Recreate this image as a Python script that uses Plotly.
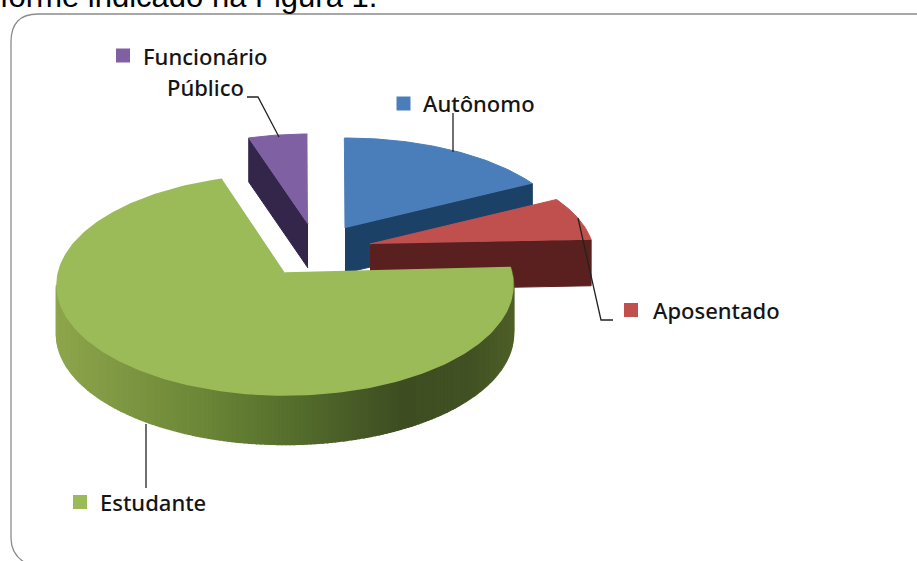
import numpy as np
import plotly.graph_objects as go

# Data (shares, percent), clockwise from the start angle
categories = ["Funcionário Público", "Autônomo", "Aposentado", "Estudante"]
shares = [4.4, 15.7, 6.8, 73.1]
start_angle = -106.0

top_colors = ["#7f60a2", "#4a7ebb", "#c0504d", "#9bbb59"]
cut_colors = ["#33264a", "#1b4167", "#5a2020", "#46562a"]

# Pie drawing geometry (pixel axes)
rx = [215, 225, 224, 228]
ry = [102, 102, 102, 110]
apex_x = [308, 345, 370, 285]
apex_y = [224, 228, 244, 273]
centre_drop = 12
depth = [44, 45, 46, 49]

grad_x = [57, 130, 200, 300, 400, 470, 513]
grad_rgb = [(142, 166, 76), (125, 150, 66), (108, 136, 56), (84, 108, 44), (62, 78, 34), (66, 82, 36), (78, 96, 40)]

W, H = 917, 561
fig = go.Figure()


def poly(xs, ys, color, lw=1):
    fig.add_trace(go.Scatter(x=list(xs), y=list(ys), mode="lines", fill="toself", fillcolor=color,
                             line=dict(color=color, width=lw), hoverinfo="skip", showlegend=False))


angles = start_angle + np.concatenate([[0], np.cumsum(shares)]) * 3.6


def arc(i, a0, a1, n=60):
    t = np.radians(np.linspace(a0, a1, n))
    return apex_x[i] + rx[i] * np.cos(t), apex_y[i] + centre_drop + ry[i] * np.sin(t)


# back wedges first: purple, blue, red, then the big green one
for i in range(3):
    a0, a1 = angles[i], angles[i + 1]
    xs, ys = arc(i, a0, a1)
    # visible cut face
    if i == 0:
        cx, cy = xs[0], ys[0]
    else:
        cx, cy = xs[-1], ys[-1]
    poly([apex_x[i], cx, cx, apex_x[i]], [apex_y[i], cy, cy + depth[i], apex_y[i] + depth[i]], cut_colors[i])
    poly([apex_x[i], *xs], [apex_y[i], *ys], top_colors[i])

# green wedge: outer wall with horizontal shading, then top face
i = 3
a_start = angles[3] - 360 if angles[3] > 180 else angles[3]
wall_angles = np.linspace(a_start, 180, 181)
for a0, a1 in zip(wall_angles[:-1], wall_angles[1:]):
    xs, ys = arc(i, a0, a1, 3)
    xm = xs.mean()
    col = [int(np.interp(xm, grad_x, [c[k] for c in grad_rgb])) for k in range(3)]
    color = "rgb(%d,%d,%d)" % tuple(col)
    poly([*xs, *xs[::-1]], [*ys, *(ys[::-1] + depth[i])], color, lw=2.5)
xs, ys = arc(i, a_start, a_start + shares[3] * 3.6, 240)
poly([apex_x[i], *xs], [apex_y[i], *ys], top_colors[i], lw=1.5)

# leader lines
leaders_x = [[247, 258, 279], [453, 453], [578, 601, 613], [146, 146]]
leaders_y = [[97, 97, 137], [113, 152], [218, 320, 320], [424, 488]]
for lx, ly in zip(leaders_x, leaders_y):
    fig.add_trace(go.Scatter(x=lx, y=ly, mode="lines", line=dict(color="#222222", width=1.3),
                             hoverinfo="skip", showlegend=False))

# label keys and text
key_x = [123, 403.5, 631, 80]
key_y = [55.5, 103.5, 310, 502]
fig.add_trace(go.Scatter(x=key_x, y=key_y, mode="markers",
                         marker=dict(symbol="square", size=14, color=top_colors, line=dict(width=0)),
                         hoverinfo="skip", showlegend=False))

font = dict(family="Noto Sans", size=22, weight=500, color="#151515")
labels = [("Funcionário", 141, 56), ("Público", 165, 87), ("Autônomo", 421, 103),
          ("Aposentado", 651, 310), ("Estudante", 98, 502)]
annotations = [dict(x=x, y=y, text=t, xref="x", yref="y", xanchor="left", yanchor="middle",
                    showarrow=False, font=font) for t, x, y in labels]
annotations.append(dict(x=0, y=1, yshift=4, xshift=-2, text="forme indicado na Figura 1.", xref="paper", yref="paper",
                        xanchor="left", yanchor="middle", showarrow=False,
                        font=dict(family="Liberation Sans", size=31, color="#000000")))

frame = dict(type="path", xref="x", yref="y", line=dict(color="#8c8c8c", width=1.3),
             path="M 925 14 L 38 14 Q 11 14 11 42 L 11 538 Q 11 558 32 566")

fig.update_layout(width=W, height=H, margin=dict(l=0, r=0, t=0, b=0),
                  paper_bgcolor="white", plot_bgcolor="white", showlegend=False,
                  xaxis=dict(range=[0, W], visible=False, fixedrange=True),
                  yaxis=dict(range=[H, 0], visible=False, fixedrange=True),
                  annotations=annotations, shapes=[frame])

fig.write_html("out.html", post_script="document.body.style.margin='0';", config={"displayModeBar": False})
